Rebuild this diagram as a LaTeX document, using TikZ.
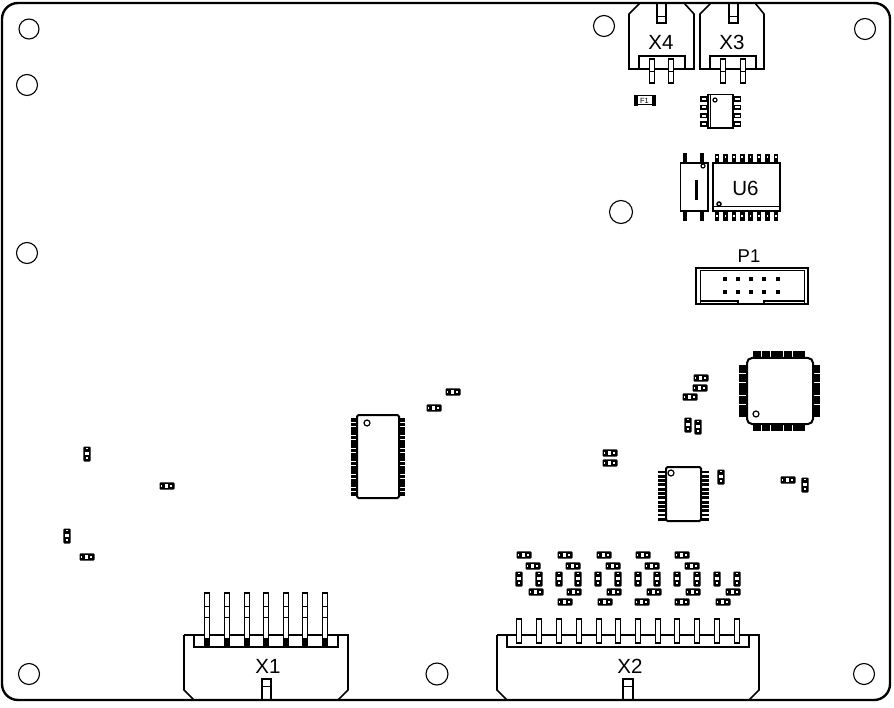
\documentclass[tikz,border=0pt]{standalone}
\usepackage{fontspec}
\setmainfont{Liberation Sans}
\tikzset{
  x=1pt,y=-1pt,
  ol/.style={draw=black,line width=1.6pt,fill=none},
  thin ol/.style={draw=black,line width=1pt},
  hole/.style={draw=black,line width=1.1pt,fill=white},
  refdes/.style={font=\fontsize{20.5}{20.5}\selectfont,inner sep=0pt},
  pin/.style={draw=black,line width=1.3pt,fill=white},
  pics/chip/.style={code={
    \fill[black,rounded corners=1pt] (-7.5,-3.7) rectangle (7.5,3.7);
    \fill[white] (-2.5,-2) rectangle (0.5,2);
    \fill[white] (3,-1) rectangle (4.5,1);
    \fill[white] (-6,-1) rectangle (-5,1);
  }},
  pics/vchip/.style={code={
    \fill[black,rounded corners=1pt] (-3.7,-7.5) rectangle (3.7,7.5);
    \fill[white] (-2,-2.5) rectangle (2,0.5);
    \fill[white] (-1,3) rectangle (1,4.5);
    \fill[white] (-1,-6) rectangle (1,-5);
  }},
}
\newcommand{\padw}{1.9}
\newcommand{\hpads}[5]{% x1 x2 ystart pitch count
  \foreach \i in {1,...,#5}{
    \pgfmathsetmacro{\yy}{#3+(\i-1)*#4}
    \fill[black] (#1,\yy-\padw) rectangle (#2,\yy+\padw);
  }}
\newcommand{\vpads}[5]{% y1 y2 xstart pitch count
  \foreach \i in {1,...,#5}{
    \pgfmathsetmacro{\xx}{#3+(\i-1)*#4}
    \fill[black] (\xx-\padw,#1) rectangle (\xx+\padw,#2);
  }}
\begin{document}
\begin{tikzpicture}
\useasboundingbox (0,0) rectangle (894,708);
\fill[white] (0,0) rectangle (894,708);
% board
\draw[black,line width=2.4pt,rounded corners=16pt] (2,3) rectangle (890,700);
% mounting holes
\foreach \cx/\cy/\r in {29/29/10,27/85/10.5,27/253/10.5,29/674/10.5,437/674/11,864/674/10.5,865/29/10.5,604/26/10.5,621/212/11.5}{
  \draw[hole] (\cx,\cy) circle (\r);
}
% X4
\draw[ol] (640,3) -- (629,14) -- (629,69) -- (694,69) -- (694,14) -- (684,3);
\draw[ol] (639,69) -- (639,56) -- (685,56) -- (685,69);
\draw[ol] (657,3) rectangle (666,23);
\draw[thin ol] (657,17) -- (666,17);
\foreach \px in {652,671}{
  \draw[pin] (\px-2.5,59) rectangle (\px+2.5,83);
  \draw[thin ol] (\px-2.5,72) -- (\px+2.5,72);
}
\node[refdes] (x4) at (661,42) {X4};
% X3
\draw[ol] (711,3) -- (700,14) -- (700,69) -- (764,69) -- (764,14) -- (755,3);
\draw[ol] (710,69) -- (710,56) -- (756,56) -- (756,69);
\draw[ol] (729,3) rectangle (738,23);
\draw[thin ol] (729,17) -- (738,17);
\foreach \px in {723,743}{
  \draw[pin] (\px-2.5,59) rectangle (\px+2.5,83);
  \draw[thin ol] (\px-2.5,72) -- (\px+2.5,72);
}
\node[refdes] (x3) at (732,42) {X3};
% F1
\draw[black,line width=1pt] (637,96) rectangle (652,105);
\fill[black] (634,95) rectangle (637.5,106);
\fill[black] (652,95) rectangle (655.5,106);
\node[font=\fontsize{7.5}{7.5}\selectfont,inner sep=0pt] (f1) at (644.5,100.8) {F1};
% 8-pin
\renewcommand{\padw}{2.7}
\hpads{700}{708}{99}{8.4}{4}
\hpads{733}{741}{99}{8.4}{4}
\foreach \yy in {99,107.4,115.8,124.2}{
  \fill[white] (701.5,\yy-1) rectangle (706,\yy+1);
  \fill[white] (735,\yy-1) rectangle (739.5,\yy+1);
}
\draw[black,line width=1.9pt,fill=white] (708,94.5) rectangle (733,128);
\draw[black,line width=0.8pt] (710.5,94.5) -- (710.5,128);
\draw[black,line width=1.2pt] (715,100) circle (2);
% opto
\renewcommand{\padw}{2.3}
\vpads{153}{163}{685}{17}{2}
\vpads{211}{221}{685}{17}{2}
\draw[black,line width=1.9pt,fill=white] (680.5,163) rectangle (708,211);
\draw[black,line width=1.2pt] (703,166) circle (2);
\fill[black] (694.5,180) rectangle (697.5,200);
% U6
\vpads{154}{163}{717}{8.4}{8}
\vpads{211}{221}{717}{8.4}{8}
\foreach \i in {0,...,7}{
  \fill[white] (717+\i*8.4-0.8,156) rectangle (717+\i*8.4+0.8,158);
  \fill[white] (717+\i*8.4-0.8,215) rectangle (717+\i*8.4+0.8,217);
}
\draw[black,line width=1.9pt,fill=white] (713,163) rectangle (780,211);
\draw[black,line width=1pt] (713,207) -- (780,207);
\draw[black,line width=1.5pt] (719,204) circle (2);
\node[refdes] (u6) at (745.5,188) {U6};
% P1
\draw[black,line width=1.8pt] (696,268) rectangle (808,304);
\draw[black,line width=1pt] (700,304) -- (700,271) -- (804,271) -- (804,304);
\draw[black,line width=1.4pt] (700,301) -- (738,301) -- (738,304);
\draw[black,line width=1.4pt] (804,301) -- (764,301) -- (764,304);
\foreach \px in {725,738,751,764,778}{
  \foreach \py in {279,292}{
    \fill[black] (\px-2,\py-2) rectangle (\px+2,\py+2);
  }
}
\node[font=\fontsize{18.5}{18.5}\selectfont,inner sep=0pt] (p1) at (749,256) {P1};
% QFP
\renewcommand{\padw}{2}
\vpads{351}{358}{755}{4.4}{12}
\vpads{424}{431}{755}{4.4}{12}
\hpads{739}{747}{367}{4.4}{12}
\hpads{813}{820}{367}{4.4}{12}
\draw[black,line width=2pt,fill=white,rounded corners=5pt] (747,358) rectangle (813,424);
\draw[black,line width=1.2pt] (756,414) circle (3);
% mid SOIC
\renewcommand{\padw}{1.85}
\hpads{351}{357}{420}{4.35}{18}
\hpads{399}{405}{420}{4.35}{18}
\draw[black,line width=2pt,fill=white,rounded corners=1.5pt] (357,415) rectangle (399,498);
\draw[black,line width=1.2pt] (367,423) circle (3);
% lower SOIC
\renewcommand{\padw}{1.45}
\hpads{658}{666}{472}{4.3}{12}
\hpads{701}{709}{472}{4.3}{12}
\draw[black,line width=2pt,fill=white,rounded corners=1.5pt] (666,467) rectangle (701,521);
\draw[black,line width=1.2pt,fill=white] (671,473) circle (3);
% small parts
\foreach \px/\py in {524/555,565/555,604/555,643/555,682/555,
  533/566,573/566,613/566,652/566,692/566,
  536/592,574/592,614/592,654/592,693/592,733/592,
  565/602,605/602,642/602,682/602,723/602,
  701/378,700/388,690/397,788/480,453/392,434/408,167/486,87/557,610/453,610/463}{
  \pic at (\px,\py) {chip};
}
\foreach \px/\py in {519/579,539/579,559/579,578/579,598/579,618/579,638/579,657/579,677/579,697/579,717/579,737/579,
  688/425,698/427,721/477,805/485,87/454,67/536}{
  \pic at (\px,\py) {vchip};
}
% X1
\draw[ol] (184,635) -- (348,635) -- (348,690) -- (338,700);
\draw[ol] (184,635) -- (184,690) -- (194,700);
\draw[ol] (194,635) -- (194,647) -- (338,647) -- (338,635);
\foreach \px in {207,227,247,266,286,305,325}{
  \draw[pin] (\px-2.5,593) rectangle (\px+2.5,645);
  \fill[black] (\px-2.5,638) rectangle (\px+2.5,645);
  \draw[black,line width=0.8pt] (\px-2.5,606) -- (\px+2.5,606) (\px-2.5,617) -- (\px+2.5,617);
}
\draw[ol] (262,700) -- (262,679) -- (271,679) -- (271,700);
\draw[black,line width=1pt] (262,686) -- (271,686);
\node[refdes] (x1) at (268,666) {X1};
% X2
\draw[ol] (497,635) -- (759,635) -- (759,690) -- (749,700);
\draw[ol] (497,635) -- (497,690) -- (507,700);
\draw[ol] (507,635) -- (507,647) -- (749,647) -- (749,635);
\foreach \px in {519,539,559,579,599,618,638,658,677,697,717,737}{
  \draw[black,line width=1.1pt,fill=white] (\px-2.5,619) rectangle (\px+2.5,643);
}
\draw[ol] (623,700) -- (623,679) -- (633,679) -- (633,700);
\draw[black,line width=1pt] (623,686) -- (633,686);
\node[refdes] (x2) at (630,666) {X2};
\end{tikzpicture}
\end{document}
